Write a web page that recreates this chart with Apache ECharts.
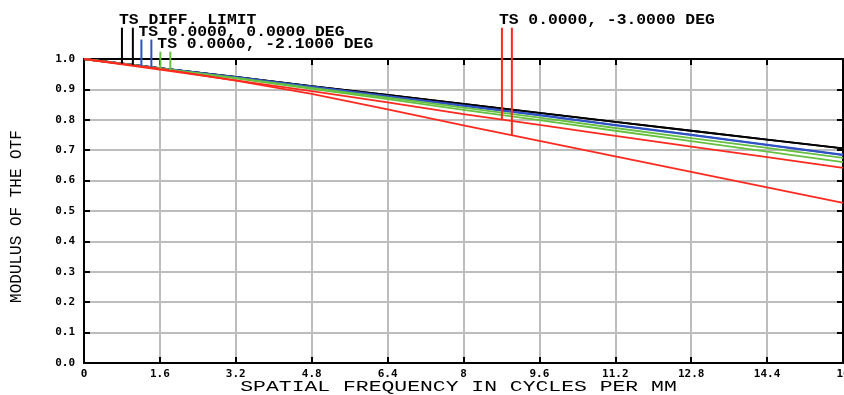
<!DOCTYPE html>
<html><head><meta charset="utf-8">
<script src="https://cdn.jsdelivr.net/npm/echarts@6/dist/echarts.min.js"></script>
<style>html,body{margin:0;padding:0;background:#fff}#c{width:844px;height:395px}</style>
</head><body><div id="c"></div>
<script>
// ---- data ----
const freq   = [0, 1.6, 3.2, 4.8, 6.4, 8, 9.6, 11.2, 12.8, 14.4, 16];
const diffT  = [1, 0.970, 0.941, 0.911, 0.882, 0.852, 0.823, 0.793, 0.764, 0.735, 0.706];
const diffS  = [1, 0.970, 0.941, 0.911, 0.882, 0.852, 0.823, 0.793, 0.764, 0.735, 0.706];
const f0T    = [1, 0.970, 0.940, 0.909, 0.878, 0.846, 0.815, 0.782, 0.750, 0.717, 0.684];
const f0S    = [1, 0.970, 0.940, 0.909, 0.878, 0.847, 0.816, 0.783, 0.751, 0.718, 0.685];
const f21T   = [1, 0.969, 0.938, 0.905, 0.873, 0.840, 0.807, 0.773, 0.740, 0.708, 0.675];
const f21S   = [1, 0.968, 0.936, 0.902, 0.868, 0.833, 0.799, 0.764, 0.730, 0.695, 0.661];
const f30T   = [1, 0.965, 0.930, 0.894, 0.857, 0.819, 0.783, 0.747, 0.712, 0.677, 0.642];
const f30S   = [1, 0.968, 0.929, 0.885, 0.834, 0.782, 0.731, 0.680, 0.629, 0.578, 0.527];
const legendLabels = ['TS DIFF. LIMIT', 'TS 0.0000, 0.0000 DEG', 'TS 0.0000, -2.1000 DEG', 'TS 0.0000, -3.0000 DEG'];
const markerX   = [0.80, 1.03, 1.21, 1.42, 1.61, 1.82, 8.81, 9.02];
const markerTop = [1.103, 1.103, 1.064, 1.064, 1.024, 1.024, 1.103, 1.103];
const xTitle = 'SPATIAL FREQUENCY IN CYCLES PER MM';
const yTitle = 'MODULUS OF THE OTF';

// ---- styling ----
const colors = ['#000000', '#000000', '#2f52c4', '#2f52c4', '#66c040', '#66c040', '#ff2a1f', '#ff2a1f'];
const curves = [diffT, diffS, f0T, f0S, f21T, f21S, f30T, f30S];

function interp(arr, x) {
  for (let i = 0; i < freq.length - 1; i++) {
    if (x >= freq[i] && x <= freq[i + 1]) {
      const t = (x - freq[i]) / (freq[i + 1] - freq[i]);
      return arr[i] + t * (arr[i + 1] - arr[i]);
    }
  }
  return arr[arr.length - 1];
}

const chart = echarts.init(document.getElementById('c'), null, { renderer: 'canvas' });
const frame = { show: true, onZero: false, lineStyle: { color: '#000', width: 2 } };
const tick = { show: true, inside: true, length: 6, lineStyle: { color: '#000', width: 2 } };
const lblFont = { fontFamily: 'DejaVu Sans Mono', fontWeight: 'bold', fontSize: 11, color: '#000' };

const series = [];
curves.forEach((c, k) => {
  series.push({
    type: 'line', xAxisIndex: 0, yAxisIndex: 0, symbol: 'none', showSymbol: false,
    data: freq.map((f, i) => [f, c[i]]), animation: false, silent: true,
    lineStyle: { color: colors[k], width: 1.8 }, z: 3 + k * 0.01
  });
});
markerX.forEach((mx, k) => {
  series.push({
    type: 'line', xAxisIndex: 0, yAxisIndex: 0, symbol: 'none', showSymbol: false, clip: false,
    data: [[mx, interp(curves[k], mx)], [mx, markerTop[k]]], animation: false, silent: true,
    lineStyle: { color: colors[k], width: 2 }, z: 4
  });
});

chart.setOption({
  animation: false,
  backgroundColor: '#fff',
  grid: { left: 84, right: 1, top: 59, bottom: 32, containLabel: false, outerBoundsMode: 'none' },
  xAxis: [
    { type: 'value', position: 'bottom', min: 0, max: 16, interval: 1.6,
      axisLine: frame, axisTick: tick,
      splitLine: { show: true, lineStyle: { color: '#bdbdbd', width: 2 } },
      axisLabel: Object.assign({ margin: 6, showMinLabel: true, showMaxLabel: true,
        formatter: v => String(+(+v).toFixed(1)) }, lblFont) },
    { type: 'value', position: 'top', min: 0, max: 16, interval: 1.6,
      axisLine: frame, axisTick: tick, splitLine: { show: false }, axisLabel: { show: false } }
  ],
  yAxis: [
    { type: 'value', position: 'left', min: 0, max: 1, interval: 0.1,
      axisLine: frame, axisTick: tick,
      splitLine: { show: true, lineStyle: { color: '#bdbdbd', width: 2 } },
      axisLabel: Object.assign({ margin: 9, formatter: v => (+v).toFixed(1) }, lblFont) },
    { type: 'value', position: 'right', min: 0, max: 1, interval: 0.1,
      axisLine: frame, axisTick: tick, splitLine: { show: false }, axisLabel: { show: false } }
  ],
  series: series
});

const px = x => chart.convertToPixel({ xAxisIndex: 0 }, x);
const legendPos = [ { m: 0, y: 20 }, { m: 2, y: 32 }, { m: 4, y: 44.5 }, { m: 6, y: 20 } ];
const graphics = legendPos.map((p, i) => ({
  type: 'text', x: px(markerX[p.m]) - 3, y: p.y, scaleX: 1.09, z: 10,
  style: { text: legendLabels[i], fontFamily: 'Liberation Mono', fontWeight: 'bold', fontSize: 15,
    fill: '#000', textAlign: 'left', align: 'left', textVerticalAlign: 'middle', verticalAlign: 'middle' }
}));
graphics.push({
  type: 'text', x: 458.5, y: 387, scaleX: 1.38, z: 10,
  style: { text: xTitle, fontFamily: 'Liberation Mono', fontSize: 15.5, fill: '#000',
    textAlign: 'center', align: 'center', textVerticalAlign: 'middle', verticalAlign: 'middle' }
});
graphics.push({
  type: 'text', x: 17, y: 216.5, rotation: Math.PI / 2, z: 10,
  style: { text: yTitle, fontFamily: 'Liberation Mono', fontSize: 16, fill: '#000',
    textAlign: 'center', align: 'center', textVerticalAlign: 'middle', verticalAlign: 'middle' }
});
chart.setOption({ graphic: graphics });
</script>
</body></html>
